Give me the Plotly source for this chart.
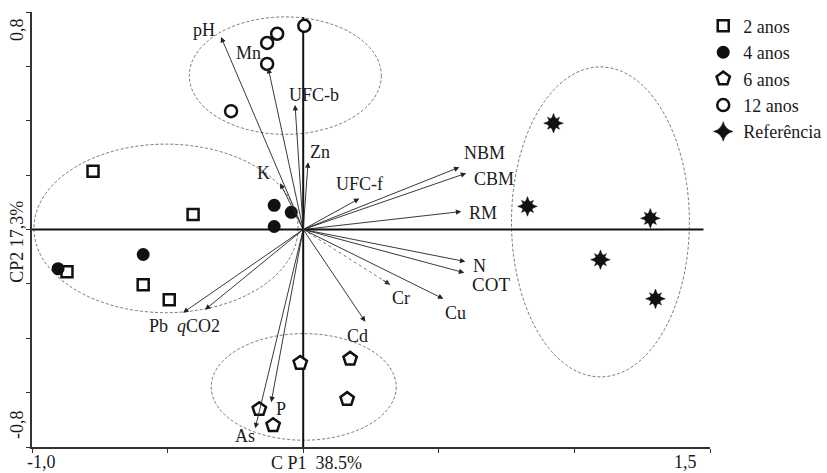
import plotly.graph_objects as go

# ---------------- data ----------------
x_2anos = [-0.775, -0.406, -0.871, -0.590, -0.494]
y_2anos = [0.214, 0.055, -0.155, -0.203, -0.258]

x_4anos = [-0.107, -0.044, -0.107, -0.590, -0.904]
y_4anos = [0.089, 0.063, 0.011, -0.092, -0.144]

x_6anos = [-0.011, 0.173, 0.162, -0.162, -0.111]
y_6anos = [-0.491, -0.476, -0.624, -0.661, -0.720]

x_12anos = [0.004, -0.096, -0.133, -0.133, -0.266]
y_12anos = [0.749, 0.720, 0.686, 0.609, 0.435]

x_ref = [0.923, 0.827, 1.280, 1.096, 1.299]
y_ref = [0.391, 0.085, 0.041, -0.111, -0.255]

var_names = ["pH", "Mn", "UFC-b", "Zn", "K", "UFC-f", "NBM", "CBM", "RM",
             "N", "COT", "Cr", "Cu", "Cd", "Pb", "<i>q</i>CO2", "As", "P"]
var_x = [-0.303, -0.129, -0.030, 0.018, -0.085, 0.207, 0.576, 0.601, 0.583,
         0.598, 0.594, 0.321, 0.517, 0.229, -0.443, -0.362, -0.177, -0.118]
var_y = [0.708, 0.594, 0.458, 0.247, 0.170, 0.114, 0.229, 0.207, 0.066,
         -0.118, -0.159, -0.203, -0.255, -0.339, -0.306, -0.295, -0.731, -0.635]

# group ellipses: center x, center y, radius x, radius y
ell_cx = [-0.066, -0.506, 0.002, 1.096]
ell_cy = [0.566, 0.004, -0.579, 0.028]
ell_rx = [0.354, 0.487, 0.341, 0.328]
ell_ry = [0.216, 0.310, 0.196, 0.570]

x_ticks = [-1.0, -0.5, 0.0, 0.5, 1.0, 1.5]
y_ticks = [-0.8, -0.6, -0.4, -0.2, 0.0, 0.2, 0.4, 0.6, 0.8]

# label offsets (pixels) relative to arrow tips
lab_dx = [-17, -20, 19, 12, -17, 0, 25, 28, 22, 14, 27, 11, 12, -8, -25, -7, -10, 10]
lab_dy = [7, 15, 10, 10, 10, 15, 14, -6, -1, -4, -12, -13, -14, -14, -13, -16, -8, -7]

FONT = "Liberation Serif"
INK = "#1a1a1a"
LAB = 18

fig = go.Figure()

# ellipses
for cx, cy, rx, ry in zip(ell_cx, ell_cy, ell_rx, ell_ry):
    fig.add_shape(type="circle", xref="x", yref="y",
                  x0=cx - rx, x1=cx + rx, y0=cy - ry, y1=cy + ry,
                  line=dict(color="#555555", width=0.8, dash="3px,2px"),
                  layer="below")

# zero axes through origin
fig.add_shape(type="line", xref="x", yref="y", x0=-1.0, x1=1.476, y0=0, y1=0,
              line=dict(color="#111111", width=2), layer="below")
fig.add_shape(type="line", xref="x", yref="y", x0=0, x1=0, y0=-0.8, y1=0.782,
              line=dict(color="#111111", width=2), layer="below")

# variable vectors
for name, vx, vy, dx, dy in zip(var_names, var_x, var_y, lab_dx, lab_dy):
    if name == "Cr":
        fig.add_trace(go.Scatter(x=[0, vx], y=[0, vy], mode="lines",
                                 line=dict(color="#777777", width=1, dash="dot"),
                                 showlegend=False, hoverinfo="skip"))
        fig.add_annotation(x=vx, y=vy, ax=vx * 0.9, ay=vy * 0.9, xref="x", yref="y",
                           axref="x", ayref="y", text="", showarrow=True,
                           arrowhead=2, arrowsize=1.2, arrowwidth=0.9,
                           arrowcolor="#333333", standoff=0)
    else:
        fig.add_annotation(x=vx, y=vy, ax=0, ay=0, xref="x", yref="y",
                           axref="x", ayref="y", text="", showarrow=True,
                           arrowhead=2, arrowsize=1.2, arrowwidth=0.9,
                           arrowcolor="#222222", standoff=0)
    size = 19 if name == "COT" else LAB
    fig.add_annotation(x=vx, y=vy, xref="x", yref="y", text=name, showarrow=False,
                       xshift=dx, yshift=dy,
                       font=dict(family=FONT, size=size, color=INK))

# sample groups
fig.add_trace(go.Scatter(x=x_2anos, y=y_2anos, mode="markers", name="2 anos",
                         marker=dict(symbol="square-open", size=11, color="#111111",
                                     line=dict(width=2.5, color="#111111"))))
fig.add_trace(go.Scatter(x=x_4anos, y=y_4anos, mode="markers", name="4 anos",
                         marker=dict(symbol="circle", size=13, color="#111111",
                                     line=dict(width=0))))
fig.add_trace(go.Scatter(x=x_6anos, y=y_6anos, mode="markers", name="6 anos",
                         marker=dict(symbol="pentagon", size=14, color="white",
                                     line=dict(width=2.5, color="#111111"))))
fig.add_trace(go.Scatter(x=x_12anos, y=y_12anos, mode="markers", name="12 anos",
                         marker=dict(symbol="circle", size=12, color="white",
                                     line=dict(width=2.5, color="#111111"))))
fig.add_trace(go.Scatter(x=x_ref, y=y_ref, mode="markers", name="Referência",
                         marker=dict(symbol="star-diamond", size=14, color="#111111",
                                     line=dict(width=0.5, color="#111111"))))
fig.add_trace(go.Scatter(x=x_ref, y=y_ref, mode="markers", showlegend=False,
                         marker=dict(symbol="star-square", size=11, color="#111111",
                                     line=dict(width=0.5, color="#111111"))))

# tick labels and axis titles as text
fig.add_annotation(x=-1.0, y=-0.8, xref="x", yref="y", text="-1,0", showarrow=False,
                   xshift=9, yshift=-15, font=dict(family=FONT, size=LAB, color=INK))
fig.add_annotation(x=1.5, y=-0.8, xref="x", yref="y", text="1,5", showarrow=False,
                   xshift=-25, yshift=-15, font=dict(family=FONT, size=LAB, color=INK))
fig.add_annotation(x=-1.0, y=0.8, xref="x", yref="y", text="0,8", showarrow=False,
                   textangle=-90, xshift=-15, yshift=-18,
                   font=dict(family=FONT, size=LAB, color=INK))
fig.add_annotation(x=-1.0, y=-0.8, xref="x", yref="y", text="-0,8", showarrow=False,
                   textangle=-90, xshift=-15, yshift=22,
                   font=dict(family=FONT, size=LAB, color=INK))
fig.add_annotation(x=0.05, y=-0.8, xref="x", yref="y", text="C P1  38.5%", showarrow=False,
                   yshift=-16, font=dict(family=FONT, size=LAB, color=INK))
fig.add_annotation(x=-1.0, y=-0.045, xref="x", yref="y", text="CP2 17,3%", showarrow=False,
                   textangle=-90, xshift=-15,
                   font=dict(family=FONT, size=LAB, color=INK))

fig.update_layout(
    width=827, height=473,
    margin=dict(l=32, r=117, t=12, b=26, autoexpand=False),
    paper_bgcolor="white", plot_bgcolor="white",
    xaxis=dict(range=[-1.0, 1.5], tickvals=x_ticks, showticklabels=False,
               ticks="outside", ticklen=4, tickcolor="#333333", tickwidth=1,
               showline=True, linecolor="#333333", linewidth=2,
               showgrid=False, zeroline=False, fixedrange=True),
    yaxis=dict(range=[-0.8, 0.8], tickvals=y_ticks, showticklabels=False,
               ticks="outside", ticklen=4, tickcolor="#333333", tickwidth=1,
               showline=True, linecolor="#333333", linewidth=2,
               showgrid=False, zeroline=False, fixedrange=True),
    legend=dict(x=0.99, y=1.01, xanchor="left", yanchor="top",
                font=dict(family=FONT, size=18, color=INK),
                bgcolor="rgba(0,0,0,0)", tracegroupgap=0, itemsizing="trace"),
    showlegend=True,
)

fig.write_html("out.html", config={"displayModeBar": False},
               post_script="document.body.style.margin='0px';")
